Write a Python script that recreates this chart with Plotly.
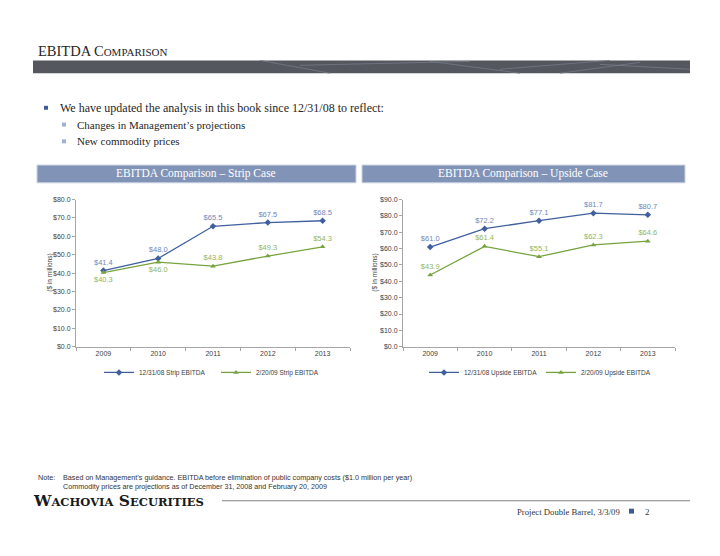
import plotly.graph_objects as go

years = ["2009", "2010", "2011", "2012", "2013"]
strip_old = [41.4, 48.0, 65.5, 67.5, 68.5]
strip_new = [40.3, 46.0, 43.8, 49.3, 54.3]
up_old = [61.0, 72.2, 77.1, 81.7, 80.7]
up_new = [43.9, 61.4, 55.1, 62.3, 64.6]

strip_old_name = "12/31/08 Strip EBITDA"
strip_new_name = "2/20/09 Strip EBITDA"
up_old_name = "12/31/08 Upside EBITDA"
up_new_name = "2/20/09 Upside EBITDA"

W, H = 720, 556
OFF = 8  # page body margin offset
def px(x): return (x - OFF) / W
def py(y): return 1 - (y - OFF) / H

BLUE = "#3f5f9f"
GREEN = "#77a33f"
BLUE_T = "#6f88bb"
GREEN_T = "#8fb564"
SANS = "Liberation Sans"
SERIF = "Liberation Serif"

def labels(vals):
    return ["$%.1f" % v for v in vals]

fig = go.Figure()

def add_series(vals, name, color, tcolor, symbol, xa, ya, legend, positions):
    fig.add_trace(go.Scatter(
        x=years, y=vals, name=name, mode="lines+markers+text",
        line=dict(color=color, width=1.3),
        marker=dict(symbol=symbol, size=5, color=color),
        text=labels(vals), textposition=positions,
        textfont=dict(family=SANS, size=7.5, color=tcolor),
        xaxis=xa, yaxis=ya, legend=legend, cliponaxis=False,
    ))

add_series(strip_old, strip_old_name, BLUE, BLUE_T, "diamond", "x", "y", "legend",
           ["top center"] * 5)
add_series(strip_new, strip_new_name, GREEN, GREEN_T, "triangle-up", "x", "y", "legend",
           ["bottom center", "bottom center", "top center", "top center", "top center"])
add_series(up_old, up_old_name, BLUE, BLUE_T, "diamond", "x2", "y2", "legend2",
           ["top center"] * 5)
add_series(up_new, up_new_name, GREEN, GREEN_T, "triangle-up", "x2", "y2", "legend2",
           ["top center"] * 5)

axis_common = dict(showline=True, linecolor="#a6a6a6", linewidth=1, showgrid=False,
                   zeroline=False, ticks="outside", tickcolor="#a6a6a6", ticklen=3,
                   tickfont=dict(family=SANS, size=7, color="#404040"))

xcommon = dict(axis_common, type="category", range=[-0.5, 4.5], tickson="boundaries")
ycommon = dict(axis_common, dtick=10, tickprefix="$", tickformat=".1f")

legend_common = dict(orientation="h", xanchor="center", yanchor="middle",
                     font=dict(family=SANS, size=6.5, color="#404040"),
                     bgcolor="rgba(0,0,0,0)", itemwidth=30, tracegroupgap=0,
                     entrywidth=72, entrywidthmode="pixels")

fig.update_layout(
    width=W, height=H, margin=dict(l=0, r=0, t=0, b=0),
    paper_bgcolor="white", plot_bgcolor="white",
    showlegend=True,
    xaxis=dict(xcommon, domain=[px(76), px(350)], anchor="y"),
    yaxis=dict(ycommon, domain=[py(347), py(198)], range=[0, 80], anchor="x"),
    xaxis2=dict(xcommon, domain=[px(403), px(675)], anchor="y2"),
    yaxis2=dict(ycommon, domain=[py(347), py(198)], range=[0, 90], anchor="x2"),
    legend=dict(legend_common, x=px(216), y=py(373)),
    legend2=dict(legend_common, x=px(541), y=py(373)),
)

def rect(x0, y0, x1, y1, fill, line=None):
    return dict(type="rect", xref="paper", yref="paper", x0=px(x0), x1=px(x1),
                y0=py(y1), y1=py(y0), fillcolor=fill,
                line=line if line else dict(width=0))

shapes = []
shapes.append(rect(33, 57, 690, 70, "#55575e"))
for (a, b, c, d) in [(260, 57, 330, 70), (300, 62, 470, 58), (430, 58, 520, 70),
                     (500, 66, 610, 57), (560, 70, 640, 59), (600, 61, 690, 66)]:
    shapes.append(dict(type="line", xref="paper", yref="paper", x0=px(a), y0=py(b),
                       x1=px(c), y1=py(d), line=dict(color="#737a86", width=0.8)))
shapes.append(rect(44, 103, 48, 107, "#3d5a99"))
shapes.append(rect(62, 120, 66, 124, "#9fb0d3"))
shapes.append(rect(62, 137, 66, 141, "#9fb0d3"))
for x0, x1 in ((37, 356), (362, 685)):
    shapes.append(rect(x0, 163, x1, 181, "#8194b7", dict(color="#c9d1e0", width=1)))
shapes.append(dict(type="line", xref="paper", yref="paper", x0=px(222), x1=px(690),
                   y0=py(503), y1=py(503), line=dict(color="#808080", width=1)))
shapes.append(rect(629, 511, 634, 516, "#3d5a99"))
fig.update_layout(shapes=shapes)

ann = []
def txt(x, y, s, size, family=SERIF, color="#262626", xanchor="left", textangle=0):
    ann.append(dict(xref="paper", yref="paper", x=px(x), y=py(y), text=s, showarrow=False,
                    xanchor=xanchor, yanchor="middle", textangle=textangle,
                    font=dict(family=family, size=size, color=color)))

txt(36, 47, "EBITDA C<span style='font-size:11px'>OMPARISON</span>", 14.5)
txt(58, 105, "We have updated the analysis in this book since 12/31/08 to reflect:", 12)
txt(75, 122, "Changes in Management’s projections", 11)
txt(75, 139, "New commodity prices", 11)
txt(196, 172, "EBITDA Comparison – Strip Case", 11.5, color="white", xanchor="center")
txt(523, 172, "EBITDA Comparison – Upside Case", 11.5, color="white", xanchor="center")
txt(50, 272, "($ in millions)", 6.5, family=SANS, color="#404040", xanchor="center", textangle=-90)
txt(375, 272, "($ in millions)", 6.5, family=SANS, color="#404040", xanchor="center", textangle=-90)
txt(36, 479, "Note:", 7.2, family=SANS, color="#333333")
txt(61, 479, "Based on Management’s guidance. EBITDA before elimination of public company costs ($1.0 million per year)",
    7.2, family=SANS, color="#333333")
txt(61, 489, "Commodity prices are projections as of December 31, 2008 and February 20, 2009",
    7.2, family=SANS, color="#333333")
txt(31, 503, "<b>W<span style='font-size:11.5px'>ACHOVIA</span> S<span style='font-size:11.5px'>ECURITIES</span></b>",
    15.5, family="DejaVu Serif", color="#1a1a1a")
txt(622, 514, "Project Double Barrel, 3/3/09", 8.7, color="#333333", xanchor="right")
txt(647, 514, "2", 9, color="#333333", xanchor="center")
fig.update_layout(annotations=ann)

fig.write_html("out.html")
